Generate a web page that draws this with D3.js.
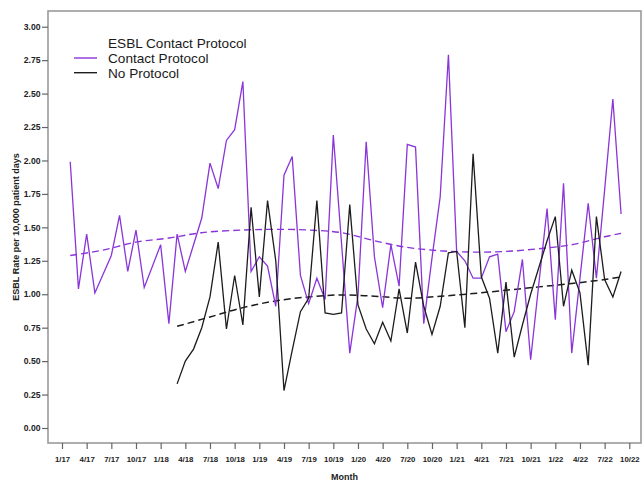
<!DOCTYPE html>
<html>
<head>
<meta charset="utf-8">
<script src="https://cdn.jsdelivr.net/npm/d3@7/dist/d3.min.js"></script>
<style>
  html, body { margin: 0; padding: 0; background: #fff; }
  svg { display: block; font-family: "Liberation Sans", Arial, sans-serif; }
</style>
</head>
<body>
<svg id="chart" width="642" height="481"></svg>
<script>
// Monthly ESBL rate per 10,000 patient days; month index 0 = Jan 2017
const contactStartMonth = 1;   // Feb 2017
const contactRates = [
  1.99, 1.04, 1.45, 1.01, 1.15, 1.29, 1.59, 1.17, 1.48, 1.05, 1.21,
  1.37, 0.78, 1.45, 1.17, 1.37, 1.57, 1.98, 1.79, 2.15, 2.23, 2.59,
  1.17, 1.28, 1.21, 0.91, 1.89, 2.03, 1.14, 0.93, 1.12, 0.96, 2.19,
  1.38, 0.56, 0.99, 2.14, 1.28, 0.90, 1.37, 1.06, 2.12, 2.10, 0.78,
  1.27, 1.73, 2.79, 1.32, 1.25, 1.12, 1.12, 1.28, 1.30, 0.72, 0.87,
  1.26, 0.51, 1.08, 1.64, 0.81, 1.83, 0.56, 1.12, 1.68, 1.12, 1.78,
  2.46, 1.60
];

const noProtocolStartMonth = 14; // Mar 2018
const noProtocolRates = [
  0.33, 0.50, 0.59, 0.75, 0.98, 1.39, 0.74, 1.14, 0.77, 1.65, 0.98,
  1.70, 1.25, 0.28, 0.58, 0.87, 0.97, 1.70, 0.86, 0.85, 0.86, 1.67,
  0.92, 0.74, 0.63, 0.79, 0.65, 1.04, 0.71, 1.24, 0.91, 0.70, 0.91,
  1.31, 1.32, 0.75, 2.05, 1.13, 0.97, 0.56, 1.09, 0.53, 0.77, 1.00,
  1.20, 1.40, 1.58, 0.91, 1.18, 1.01, 0.47, 1.58, 1.11, 0.98, 1.17
];

// Smoothed trend of each series: [month index, rate]
const contactTrend = [
  [1, 1.29], [5, 1.33], [9, 1.39], [13, 1.42], [17, 1.46], [22, 1.48],
  [26, 1.485], [30, 1.48], [34, 1.46], [38, 1.40], [42, 1.35], [46, 1.325],
  [50, 1.315], [54, 1.32], [58, 1.34], [62, 1.37], [66, 1.43], [68, 1.455]
];
const noProtocolTrend = [
  [14, 0.76], [18, 0.83], [22, 0.90], [26, 0.95], [30, 0.98], [34, 0.995],
  [38, 0.985], [42, 0.97], [46, 0.985], [50, 1.005], [54, 1.03], [58, 1.055],
  [62, 1.08], [66, 1.11], [68, 1.13]
];

const xTickLabels = [
  "1/17", "4/17", "7/17", "10/17", "1/18", "4/18", "7/18", "10/18",
  "1/19", "4/19", "7/19", "10/19", "1/20", "4/20", "7/20", "10/20",
  "1/21", "4/21", "7/21", "10/21", "1/22", "4/22", "7/22", "10/22"
];
const yTicks = [0, 0.25, 0.5, 0.75, 1, 1.25, 1.5, 1.75, 2, 2.25, 2.5, 2.75, 3];

const purple = "#8a35d8";
const dark = "#1c1c1c";

const svg = d3.select("#chart");

const x = d3.scaleLinear().domain([0, 69]).range([62, 629.3]);
const y = d3.scaleLinear().domain([0, 3]).range([428, 26.7]);

// plot frame
const frame = { left: 48, top: 11, right: 641, bottom: 443 };
svg.append("rect")
  .attr("x", frame.left).attr("y", frame.top)
  .attr("width", frame.right - frame.left)
  .attr("height", frame.bottom - frame.top)
  .attr("fill", "none").attr("stroke", "#9a9a9a").attr("stroke-width", 1.6);

// y axis
const yAxis = svg.append("g")
  .attr("transform", `translate(${frame.left},0)`)
  .call(d3.axisLeft(y).tickValues(yTicks).tickFormat(d3.format(".2f"))
    .tickSize(6).tickPadding(1.5));
yAxis.select(".domain").remove();
yAxis.selectAll("line").attr("stroke", "#666").attr("stroke-width", 1.2);
yAxis.selectAll("text")
  .attr("font-family", "Liberation Sans, Arial, sans-serif")
  .attr("font-size", 8.6).attr("font-weight", "bold").attr("fill", "#222");

// x axis: a tick every quarter
const xTickMonths = xTickLabels.map((_, i) => i * 3);
const xAxis = svg.append("g")
  .attr("transform", `translate(0,${frame.bottom})`)
  .call(d3.axisBottom(x).tickValues(xTickMonths)
    .tickFormat((d, i) => xTickLabels[i]).tickSize(6).tickPadding(7));
xAxis.select(".domain").remove();
xAxis.selectAll("line").attr("stroke", "#666").attr("stroke-width", 1.2);
xAxis.selectAll("text")
  .attr("font-family", "Liberation Sans, Arial, sans-serif")
  .attr("font-size", 7.8).attr("font-weight", "bold").attr("fill", "#222");

// axis titles
svg.append("text")
  .attr("x", (frame.left + frame.right) / 2).attr("y", 479.5)
  .attr("text-anchor", "middle").attr("font-size", 9).attr("font-weight", "bold")
  .attr("fill", "#222").text("Month");
svg.append("text")
  .attr("transform", `translate(19,${(frame.top + frame.bottom) / 2}) rotate(-90)`)
  .attr("text-anchor", "middle").attr("font-size", 9).attr("font-weight", "bold")
  .attr("fill", "#222").text("ESBL Rate per 10,000 patient days");

// series
const contactPts = contactRates.map((v, i) => [contactStartMonth + i, v]);
const noProtocolPts = noProtocolRates.map((v, i) => [noProtocolStartMonth + i, v]);

const line = d3.line().x(d => x(d[0])).y(d => y(d[1]));
const smooth = d3.line().x(d => x(d[0])).y(d => y(d[1])).curve(d3.curveCatmullRom);

svg.append("path").datum(contactTrend).attr("d", smooth)
  .attr("fill", "none").attr("stroke", purple).attr("stroke-width", 1.4)
  .attr("stroke-dasharray", "7,4");
svg.append("path").datum(noProtocolTrend).attr("d", smooth)
  .attr("fill", "none").attr("stroke", dark).attr("stroke-width", 1.5)
  .attr("stroke-dasharray", "7,4");

svg.append("path").datum(contactPts).attr("d", line)
  .attr("fill", "none").attr("stroke", purple).attr("stroke-width", 1.3)
  .attr("stroke-linejoin", "miter");
svg.append("path").datum(noProtocolPts).attr("d", line)
  .attr("fill", "none").attr("stroke", dark).attr("stroke-width", 1.3)
  .attr("stroke-linejoin", "miter");

// legend
const legend = svg.append("g").attr("font-size", 13.6).attr("fill", "#1a1a1a");
legend.append("text").attr("x", 108).attr("y", 48).text("ESBL Contact Protocol");
const legendItems = [
  { label: "Contact Protocol", color: purple },
  { label: "No Protocol", color: dark }
];
legendItems.forEach((d, i) => {
  const cy = 58 + i * 14.7;
  legend.append("line").attr("x1", 74).attr("x2", 97).attr("y1", cy).attr("y2", cy)
    .attr("stroke", d.color).attr("stroke-width", 1.4);
  legend.append("text").attr("x", 108).attr("y", cy + 5).text(d.label);
});
</script>
</body>
</html>
